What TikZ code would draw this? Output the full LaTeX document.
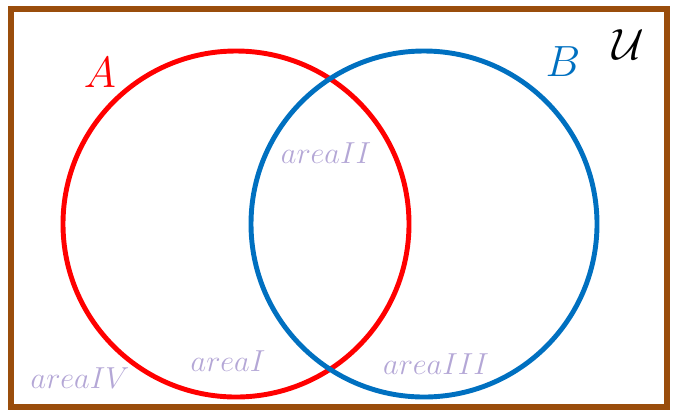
\documentclass[tikz,border=0pt]{standalone}
\usepackage{amsmath, amssymb}
\usepackage{tikz}
\usetikzlibrary{positioning}
\definecolor{frameBrown}{HTML}{9A4D0C}
\definecolor{setRed}{HTML}{FF0000}
\definecolor{setBlue}{HTML}{0070C0}
\definecolor{areaPurple}{HTML}{B4A7D6}
\tikzset{
  universe/.style={draw=frameBrown, line width=3.4pt},
  setA/.style={draw=setRed, line width=2.8pt},
  setB/.style={draw=setBlue, line width=2.8pt},
  setname/.style={font=\fontsize{23}{26}\selectfont, inner sep=0pt},
  arealabel/.style={text=areaPurple, font=\fontsize{17}{20}\selectfont, inner sep=0pt}
}

\begin{document}
\begin{tikzpicture}[x=0.02cm, y=-0.02cm]
      \useasboundingbox (0,0) rectangle (678,410);
      \draw[universe] (11,9) rectangle (667,407);
      \draw[setA] (236,224) circle[radius=173*0.02cm];
      \draw[setB] (424,224) circle[radius=173*0.02cm];
      \node[setname, text=setRed] (nameA) at (100,73) {$A$};
      \node[setname, text=setBlue] (nameB) at (563,62) {$B$};
      \node[setname, font=\fontsize{25}{28}\selectfont] (nameU) at (628,45) {$\mathcal{U}$};
      \node[arealabel] (areaII) at (326,153) {$areaII$};
      \node[arealabel] (areaI) at (228,361) {$areaI$};
      \node[arealabel] (areaIII) at (436,364) {$areaIII$};
      \node[arealabel] (areaIV) at (80,378) {$areaIV$};
    \end{tikzpicture}
\end{document}
